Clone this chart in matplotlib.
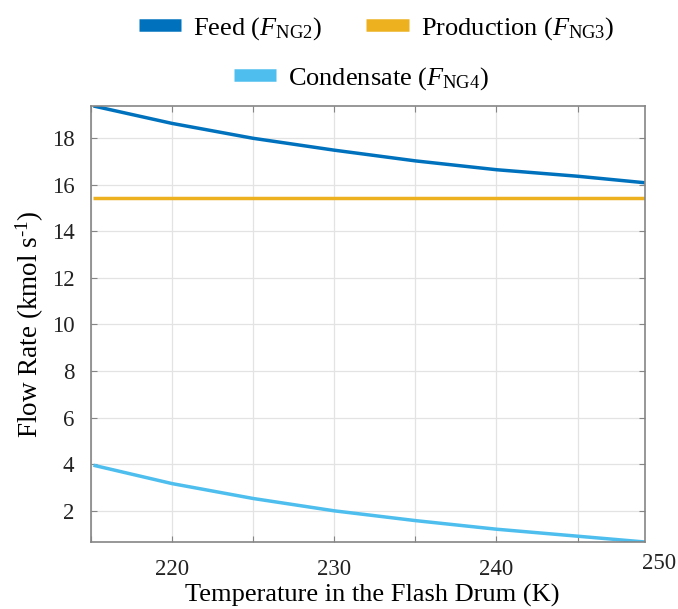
import matplotlib
matplotlib.use("Agg")
import matplotlib.pyplot as plt
import matplotlib.transforms as mtransforms
from matplotlib.lines import Line2D

plt.rcParams['font.family'] = ['Liberation Serif', 'DejaVu Serif']
plt.rcParams['mathtext.fontset'] = 'custom'
plt.rcParams['mathtext.rm'] = 'Liberation Serif'
plt.rcParams['mathtext.it'] = 'Liberation Serif:italic'

# Flash drum temperature (K) and stream flow rates (kmol/s)
temperature = [215.15, 220.0, 225.0, 230.0, 235.0, 240.0, 245.0, 249.15]
feed = [19.39, 18.64, 18.00, 17.49, 17.03, 16.65, 16.37, 16.09]
production = [15.45, 15.45, 15.45, 15.45, 15.45, 15.45, 15.45, 15.45]
condensate = [3.95, 3.16, 2.52, 1.99, 1.57, 1.20, 0.90, 0.65]

series_labels = [r'Feed ($F_{\rm NG2}$)', r'Production ($F_{\rm NG3}$)',
                 r'Condensate ($F_{\rm NG4}$)']
series_colors = ['#0072BD', '#EDB120', '#4DBEEE']

x_ticks = [215, 220, 225, 230, 235, 240, 245]
x_tick_labels = ['', '220', '', '230', '', '240', '']
y_ticks = [2, 4, 6, 8, 10, 12, 14, 16, 18]

fig = plt.figure(figsize=(6.78, 6.09), dpi=100)
ax = fig.add_axes([0.1342, 0.110, 0.817, 0.716])

for values, color in zip([feed, production, condensate], series_colors):
    ax.plot(temperature, values, color=color, lw=2.5, solid_capstyle='butt')

ax.set_xlim(temperature[0], temperature[-1])
ax.set_ylim(min(condensate), max(feed))
ax.set_xticks(x_ticks)
ax.set_xticklabels(x_tick_labels)
ax.set_yticks(y_ticks)

ax.grid(True, color='#e3e3e3', lw=0.9)
ax.set_axisbelow(True)
for sp in ax.spines.values():
    sp.set_color('#858585')
    sp.set_linewidth(1.2)
ax.tick_params(direction='in', length=4, width=0.8, color='#858585',
               top=True, right=True, labelsize=16.5, labelcolor='#222222', pad=12)

# Right-end temperature label sits just beyond the plotted range
trans = mtransforms.blended_transform_factory(ax.transData, ax.transAxes)
ax.text(250, -0.026, '250', transform=trans, ha='center', va='top',
        fontsize=16.5, color='#222222', clip_on=False)

ax.set_xlabel('Temperature in the Flash Drum (K)', fontsize=19)
ax.xaxis.set_label_coords(0.508, -0.096)
ax.set_ylabel(r'Flow Rate (kmol s$^{\text{-1}}$)', fontsize=19.5, labelpad=4)

handles = [Line2D([], [], color=c, lw=9, solid_capstyle='butt') for c in series_colors]
fig.legend(handles[:2], series_labels[:2], loc='center',
           bbox_to_anchor=(0.555, 0.953), ncol=2, frameon=False,
           fontsize=19, handlelength=1.6, handletextpad=0.45,
           columnspacing=1.7)
fig.legend(handles[2:], series_labels[2:], loc='center',
           bbox_to_anchor=(0.533, 0.871), frameon=False,
           fontsize=19, handlelength=1.6, handletextpad=0.45)

fig.savefig('out.png', dpi=100)
